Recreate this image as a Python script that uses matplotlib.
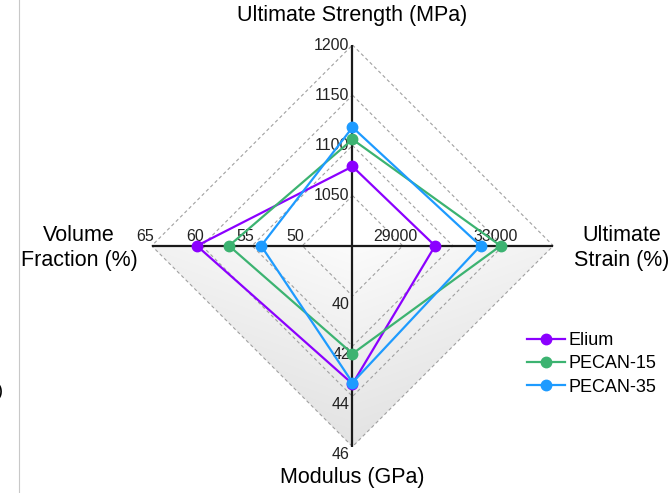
import numpy as np
import matplotlib.pyplot as plt
from matplotlib.patches import Polygon
from matplotlib.lines import Line2D

plt.rcParams['font.family'] = ['Liberation Sans', 'DejaVu Sans']

# ---- data -------------------------------------------------------------
axis_names = ['Ultimate Strength (MPa)', 'Ultimate\nStrain (%)',
              'Modulus (GPa)', 'Volume\nFraction (%)']
axis_min = [1000, 27000, 38, 45]      # value at the centre
axis_max = [1200, 35000, 46, 65]      # value at the outer diamond
strength_ticks = [1050, 1100, 1150, 1200]
strain_ticks = [29000, 33000]
modulus_ticks = [40, 42, 44, 46]
volume_ticks = [50, 55, 60, 65]

series_names = ['Elium', 'PECAN-15', 'PECAN-35']
strength = [1079, 1106, 1118]
strain = [30290, 32900, 32100]
modulus = [43.5, 42.3, 43.45]
volume = [60.5, 57.3, 54.1]
colors = ['#8b00ff', '#3cb371', '#1e9bff']

# ---- figure / coordinate frame -----------------------------------------
W, H = 671, 493
cx, cy, R = 352.5, 245.8, 200.8     # centre (px from top-left) and radius
fig = plt.figure(figsize=(W / 100, H / 100), dpi=100)
ax = fig.add_axes([0, 0, 1, 1])
ax.set_xlim(-cx / R, (W - cx) / R)
ax.set_ylim(-(H - cy) / R, cy / R)
ax.axis('off')
px = 1.0 / R

directions = [(0, 1), (1, 0), (0, -1), (-1, 0)]


def frac(v, i):
    return (v - axis_min[i]) / (axis_max[i] - axis_min[i])


def point(v, i):
    f = frac(v, i)
    return directions[i][0] * f, directions[i][1] * f


# shaded lower half of the outer diamond
gx = np.linspace(-1, 1, 400)
gy = np.linspace(-1, 0, 200)
XX, YY = np.meshgrid(gx, gy)
rr = np.abs(XX) + np.abs(YY)
gray = 0.985 - 0.035 * rr - 0.06 * (-YY)
img = np.dstack([gray, gray, gray])
im = ax.imshow(img, extent=(-1, 1, -1, 0), origin='lower', zorder=0,
               interpolation='bilinear', aspect='auto')
clip = Polygon([(-1, 0), (1, 0), (0, -1)], closed=True, transform=ax.transData)
im.set_clip_path(clip)

# dashed diamond grid
for lvl in [0.25, 0.5, 0.75, 1.0]:
    ax.add_patch(Polygon([(0, lvl), (lvl, 0), (0, -lvl), (-lvl, 0)], closed=True,
                         fill=False, ec='#a0a0a0', lw=0.8, ls=(0, (3, 2.5)),
                         zorder=1))

# axes through the centre
ax.plot([-1, 1], [0, 0], color='#1a1a1a', lw=1.6, zorder=2,
        solid_capstyle='butt')
ax.plot([0, 0], [-1, 1], color='#1a1a1a', lw=1.6, zorder=2,
        solid_capstyle='butt')

# tick labels
tfs = 11.5
tc = '#222222'
for v in strength_ticks:
    _, y = point(v, 0)
    ax.text(-3 * px, y, str(v), ha='right', va='center', fontsize=tfs,
            color=tc, zorder=3)
for v in modulus_ticks:
    _, y = point(v, 2)
    ax.text(-2.5 * px, y - 0.5 * px, str(v), ha='right', va='top', fontsize=tfs,
            color=tc, zorder=3)
for v in strain_ticks:
    x, _ = point(v, 1)
    ax.text(x - 7 * px, 5 * px, str(v), ha='center', va='baseline',
            fontsize=tfs, color=tc, zorder=3)
for v in volume_ticks:
    x, _ = point(v, 3)
    ax.text(x - 7 * px, 5 * px, str(v), ha='center', va='baseline',
            fontsize=tfs, color=tc, zorder=3)

# series
for k, name in enumerate(series_names):
    vals = [strength[k], strain[k], modulus[k], volume[k]]
    pts = [point(v, i) for i, v in enumerate(vals)]
    xs = [p[0] for p in pts] + [pts[0][0]]
    ys = [p[1] for p in pts] + [pts[0][1]]
    ax.plot(xs, ys, color=colors[k], lw=1.6, zorder=4)
    ax.plot(xs[:-1], ys[:-1], ls='none', marker='o', ms=7.5, color=colors[k],
            zorder=5)

# axis titles
afs = 15.5
ax.text(0, (cy - 15) * px, axis_names[0], ha='center', va='center', fontsize=afs)
ax.text((622 - cx) * px, (cy - 248) * px, axis_names[1], ha='center',
        va='center', fontsize=afs, linespacing=1.25)
ax.text(0, (cy - 478) * px, axis_names[2], ha='center', va='center', fontsize=afs)
ax.text((79 - cx) * px, (cy - 248) * px, axis_names[3], ha='center',
        va='center', fontsize=afs, linespacing=1.25)

# legend
handles = [Line2D([0], [0], color=c, lw=1.6, marker='o', ms=7.5) for c in colors]
fig.legend(handles, series_names, loc='upper left',
           bbox_to_anchor=(527 / W, 1 - 332 / H), frameon=False, borderpad=0,
           borderaxespad=0, handlelength=2.1, handletextpad=0.2,
           labelspacing=0.35, fontsize=13)

# neighbouring panel edge
fig.add_artist(Line2D([19 / W, 19 / W], [0, 1], color='#c8c8c8', lw=0.8))
fig.text(3 / W, 1 - 391 / H, ')', ha='right', va='center', fontsize=13)

fig.savefig('out.png', dpi=100)
